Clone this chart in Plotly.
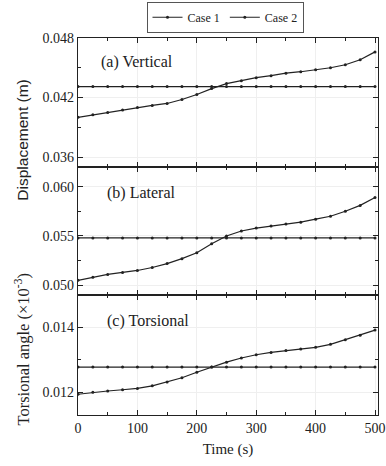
import plotly.graph_objects as go
from plotly.subplots import make_subplots

time = [0, 25, 50, 75, 100, 125, 150, 175, 200, 225, 250, 275, 300, 325, 350, 375, 400, 425, 450, 475, 500]

vert_case2 = [0.0400, 0.04025, 0.0405, 0.04075, 0.0410, 0.0412, 0.0414, 0.0418, 0.0423, 0.0429, 0.0434,
              0.0437, 0.0440, 0.0442, 0.04445, 0.0446, 0.0448, 0.0450, 0.0453, 0.0458, 0.0466]
lat_case2 = [0.0505, 0.0508, 0.0511, 0.0513, 0.0515, 0.0518, 0.0522, 0.0527, 0.0533, 0.0542, 0.0550,
             0.0555, 0.0558, 0.0560, 0.0562, 0.0564, 0.0567, 0.0570, 0.0575, 0.0581, 0.0589]
tor_case2 = [0.01194, 0.01200, 0.01204, 0.01208, 0.01212, 0.01220, 0.01232, 0.01245, 0.01262, 0.01278, 0.01293,
             0.01306, 0.01316, 0.01323, 0.01329, 0.01334, 0.01339, 0.01348, 0.01362, 0.01376, 0.01392]
vert_case1 = [0.0431] * len(time)
lat_case1 = [0.0548] * len(time)
tor_case1 = [0.01278] * len(time)

panel_labels = ["(a) Vertical", "(b) Lateral", "(c) Torsional"]
x_ticks = [0, 100, 200, 300, 400, 500]

font = "Liberation Serif"
ink = "#222222"

fig = make_subplots(rows=3, cols=1, shared_xaxes=True, vertical_spacing=0)

series = [(vert_case1, vert_case2), (lat_case1, lat_case2), (tor_case1, tor_case2)]
for i, (c1, c2) in enumerate(series):
    fig.add_trace(go.Scatter(x=time, y=c1, mode="lines+markers", name="Case 1",
                             line=dict(color=ink, width=1.2), marker=dict(size=3, color=ink),
                             showlegend=(i == 0)), row=i + 1, col=1)
    fig.add_trace(go.Scatter(x=time, y=c2, mode="lines+markers", name="Case 2",
                             line=dict(color=ink, width=1.2), marker=dict(size=3, color=ink),
                             showlegend=(i == 0)), row=i + 1, col=1)

axis_common = dict(showline=True, linecolor=ink, linewidth=1.2, mirror="ticks", ticks="inside",
                   ticklen=5, tickcolor=ink, tickfont=dict(family=font, size=14, color=ink),
                   showgrid=True, gridcolor="#efefef", zeroline=False, automargin=False)

domains = [[0.658, 1.0], [0.318, 0.658], [0.0, 0.318]]
yranges = [[0.035, 0.048], [0.049, 0.062], [0.0113, 0.015]]
ytickvals = [[0.036, 0.042, 0.048], [0.050, 0.055, 0.060], [0.012, 0.014]]
yminor = [0.003, 0.0025, 0.001]
for i in range(3):
    fig.update_yaxes(row=i + 1, col=1, domain=domains[i], range=yranges[i], tickvals=ytickvals[i],
                     tickformat=".3f",
                     minor=dict(dtick=yminor[i], tick0=ytickvals[i][0], ticks="inside", ticklen=3,
                                tickcolor=ink, showgrid=False),
                     **axis_common)
    fig.update_xaxes(row=i + 1, col=1, range=[0, 505], tickvals=x_ticks,
                     showticklabels=(i == 2), ticklabeloverflow="allow",
                     minor=dict(dtick=50, ticks="inside", ticklen=3, tickcolor=ink, showgrid=False),
                     **axis_common)

fig.update_xaxes(row=3, col=1, title=dict(text="Time (s)", font=dict(family=font, size=15, color=ink),
                                          standoff=8))

label_pos = [(0.07, 0.936), (0.09, 0.589), (0.09, 0.249)]
for (lx, ly), txt in zip(label_pos, panel_labels):
    fig.add_annotation(x=lx, y=ly, xref="paper", yref="paper", text=txt, showarrow=False,
                       xanchor="left", yanchor="middle", font=dict(family=font, size=16, color=ink))

fig.add_annotation(x=-0.185, y=0.729, xref="paper", yref="paper", text="Displacement (m)",
                   textangle=-90, showarrow=False, xanchor="center", yanchor="middle",
                   font=dict(family="Liberation Sans", size=15.5, color=ink))
fig.add_annotation(x=-0.185, y=0.175, xref="paper", yref="paper", text="Torsional angle (×10<sup>-3</sup>)",
                   textangle=-90, showarrow=False, xanchor="center", yanchor="middle",
                   font=dict(family=font, size=16.5, color=ink))

fig.update_layout(
    width=386, height=466,
    margin=dict(l=78, r=8, t=38, b=51, autoexpand=False),
    paper_bgcolor="white", plot_bgcolor="white",
    legend=dict(orientation="h", x=0.49, y=1.055, xanchor="center", yanchor="middle",
                bordercolor="#555555", borderwidth=1, bgcolor="white",
                font=dict(family=font, size=12, color=ink), itemwidth=30, tracegroupgap=0),
)

fig.write_html("out.html", config={"displayModeBar": False},
               post_script="document.body.style.margin='0px';document.body.style.overflow='hidden';")
